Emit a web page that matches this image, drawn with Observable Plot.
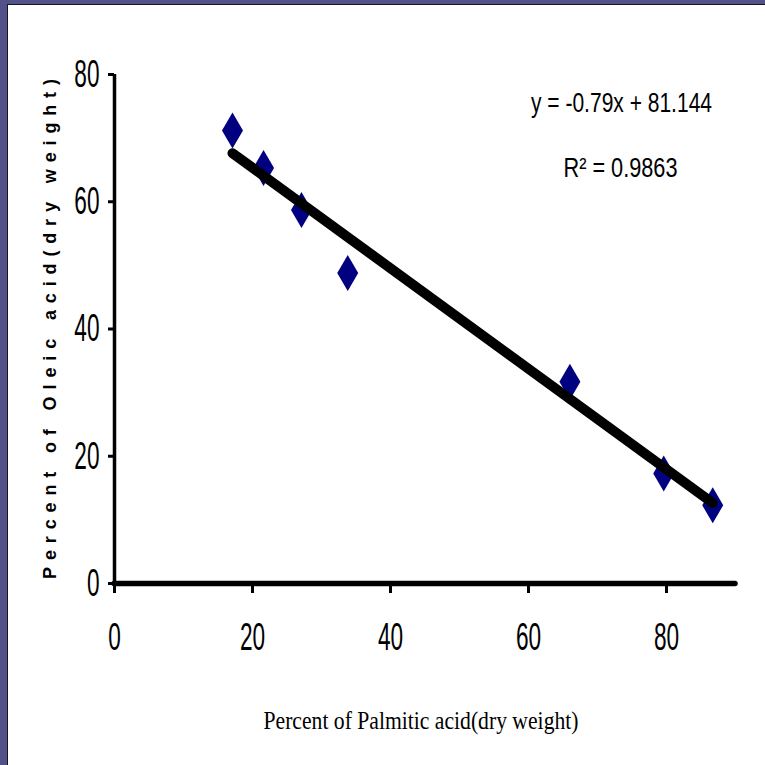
<!DOCTYPE html>
<html>
<head>
<meta charset="utf-8">
<script src="https://cdn.jsdelivr.net/npm/d3@7"></script>
<script src="https://cdn.jsdelivr.net/npm/@observablehq/plot@0.6"></script>
<style>
  html, body { margin: 0; padding: 0; width: 765px; height: 765px; overflow: hidden; background: #525288; }
  #panel { position: absolute; left: 7px; top: 4px; width: 758px; height: 761px; background: #fff;
           border-left: 1px solid #14142a; border-top: 1px solid #14142a; }
  #chart { position: absolute; left: 0; top: 0; }
</style>
</head>
<body>
<div id="panel"></div>
<div id="chart"></div>
<script>
// Data
const palmitic = [17.1, 21.6, 27.1, 33.8, 66.0, 79.6, 86.7];
const oleic    = [71.2, 65.3, 58.7, 48.8, 31.7, 17.3, 12.3];
const slope = -0.79;
const intercept = 81.144;
const xTicks = [0, 20, 40, 60, 80];
const yTicks = [0, 20, 40, 60, 80];
const xDomain = [0, 90];
const yDomain = [0, 80];
const eqLine = "y = -0.79x + 81.144";
const r2Line = "R\u00B2 = 0.9863";
const xTitle = "Percent of Palmitic acid(dry weight)";
const yTitle = "Percent of Oleic acid(dry weight)";

const points = palmitic.map((x, i) => ({x, y: oleic[i]}));
const xMin = d3.min(palmitic), xMax = d3.max(palmitic);
const trend = [xMin, xMax].map(x => ({x, y: slope * x + intercept}));

const tallDiamond = {
  draw(ctx) {
    ctx.moveTo(0, -18);
    ctx.lineTo(10.5, 0);
    ctx.lineTo(0, 18);
    ctx.lineTo(-10.5, 0);
    ctx.closePath();
  }
};

const sans = "'Liberation Sans', Arial, sans-serif";
const serif = "'Liberation Serif', 'Times New Roman', serif";

const svg = Plot.plot({
  width: 765,
  height: 765,
  marginLeft: 114,
  marginRight: 30,
  marginTop: 74,
  marginBottom: 182,
  style: {background: "transparent", overflow: "visible", fontFamily: sans, color: "#000"},
  x: {domain: xDomain},
  y: {domain: yDomain},
  marks: [
    Plot.ruleX([xDomain[0]], {y1: yDomain[0], y2: yDomain[1], stroke: "#000", strokeWidth: 3.5}),
    Plot.axisY(yTicks, {tickSize: 6, tickPadding: 9, strokeWidth: 3, fontSize: 39, fontFamily: sans, label: null}),
    Plot.axisX(xTicks, {tickSize: 10, tickPadding: 29, strokeWidth: 3, fontSize: 39, fontFamily: sans, label: null}),
    Plot.ruleY([yDomain[0]], {x1: xDomain[0], x2: xDomain[1], stroke: "#000", strokeWidth: 5.5, strokeLinecap: "round"}),
    Plot.dot(points, {x: "x", y: "y", symbol: tallDiamond, fill: "#000080", stroke: "none"}),
    Plot.line(trend, {x: "x", y: "y", stroke: "#000", strokeWidth: 10, strokeLinecap: "round"}),
    Plot.text([eqLine], {frameAnchor: "top-right", dx: -114, dy: 29, textAnchor: "middle", lineAnchor: "middle", fontSize: 28, fontFamily: sans}),
    Plot.text([r2Line], {frameAnchor: "top-right", dx: -115, dy: 94, textAnchor: "middle", lineAnchor: "middle", fontSize: 28, fontFamily: sans}),
    Plot.text([xTitle], {frameAnchor: "bottom", dx: -4, dy: 137, textAnchor: "middle", lineAnchor: "middle", fontSize: 25.5, fontFamily: serif}),
    Plot.text([yTitle], {frameAnchor: "left", dx: -64, dy: 0, rotate: -90, textAnchor: "middle", lineAnchor: "middle", fontSize: 18, fontWeight: "bold", fontFamily: sans})
  ]
});

document.getElementById("chart").append(svg);

// Horizontal compression matching the squeezed look of the original
const tickSet = new Set(xTicks.concat(yTicks).map(String));
svg.querySelectorAll("text").forEach(t => {
  const s = t.textContent;
  const len = t.getComputedTextLength();
  let target = null, adjust = "spacingAndGlyphs";
  if (tickSet.has(s)) target = len * 0.58;
  else if (s === eqLine) target = 181;
  else if (s === r2Line) target = 114;
  else if (s === xTitle) target = 315;
  else if (s === yTitle) { target = 500; adjust = "spacing"; }
  if (target != null) {
    t.setAttribute("textLength", target);
    t.setAttribute("lengthAdjust", adjust);
  }
});
</script>
</body>
</html>
